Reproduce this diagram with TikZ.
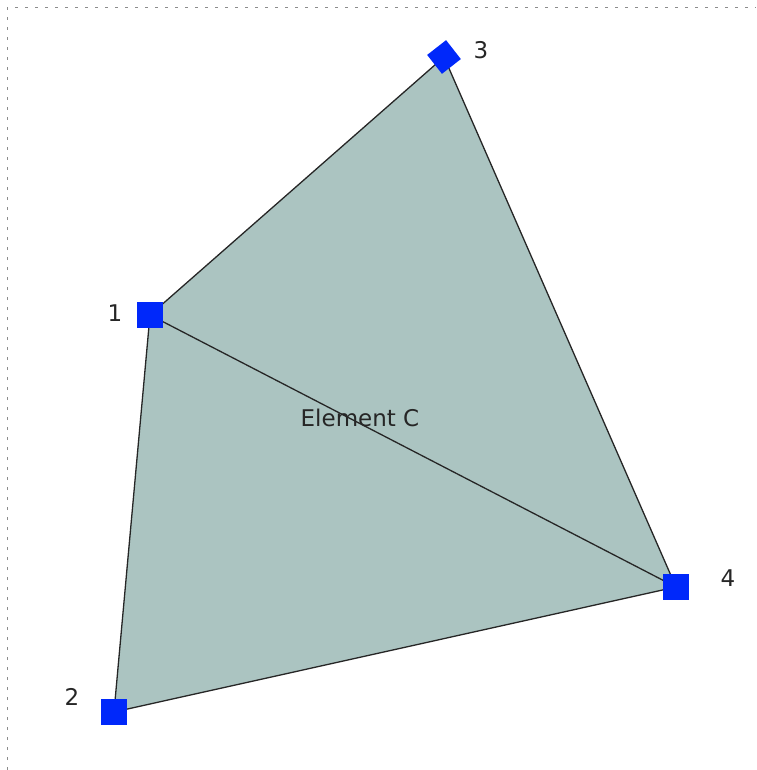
\documentclass[tikz,border=0pt]{standalone}
\usepackage{fontspec}
\setmainfont{DejaVu Sans}
\usetikzlibrary{backgrounds}
\definecolor{elemfill}{RGB}{171,196,193}
\definecolor{nodeblue}{RGB}{0,40,250}
\tikzset{
  nodesq/.style={fill=nodeblue,draw=none,minimum size=26pt,inner sep=0pt,outer sep=0pt},
  numlabel/.style={font=\fontsize{23}{28}\selectfont,text=black!85,inner sep=0pt},
  edge/.style={draw=black!85,line width=1.3pt},
  frame/.style={draw=black!45,line width=1pt,dash pattern=on 3pt off 7pt}
}
\begin{document}
\begin{tikzpicture}[x=1pt,y=-1pt]
\useasboundingbox (0,0) rectangle (756,770);
\draw[frame] (7,770) -- (7,8) -- (756,8);
\node[nodesq] (n1) at (150,315) {};
\node[nodesq] (n2) at (114,712) {};
\node[nodesq,minimum size=24pt,rotate=38] (n3) at (444,57) {};
\node[nodesq] (n4) at (676,587) {};
\begin{pgfonlayer}{background}
\fill[elemfill] (n1.center) -- (n3.center) -- (n4.center) -- (n2.center) -- cycle;
\draw[edge] (n1.center) -- (n3.center);
\draw[edge] (n3.center) -- (n4.center);
\draw[edge] (n4.center) -- (n2.center);
\draw[edge] (n2.center) -- (n1.center);
\draw[edge] (n1.center) -- (n4.center);
\end{pgfonlayer}
\node[numlabel] (l1) at (115,313) {1};
\node[numlabel] (l2) at (72,697) {2};
\node[numlabel] (l3) at (481,50) {3};
\node[numlabel] (l4) at (728,578) {4};
\node[numlabel] (ec) at (360,418) {Element C};
\end{tikzpicture}
\end{document}
